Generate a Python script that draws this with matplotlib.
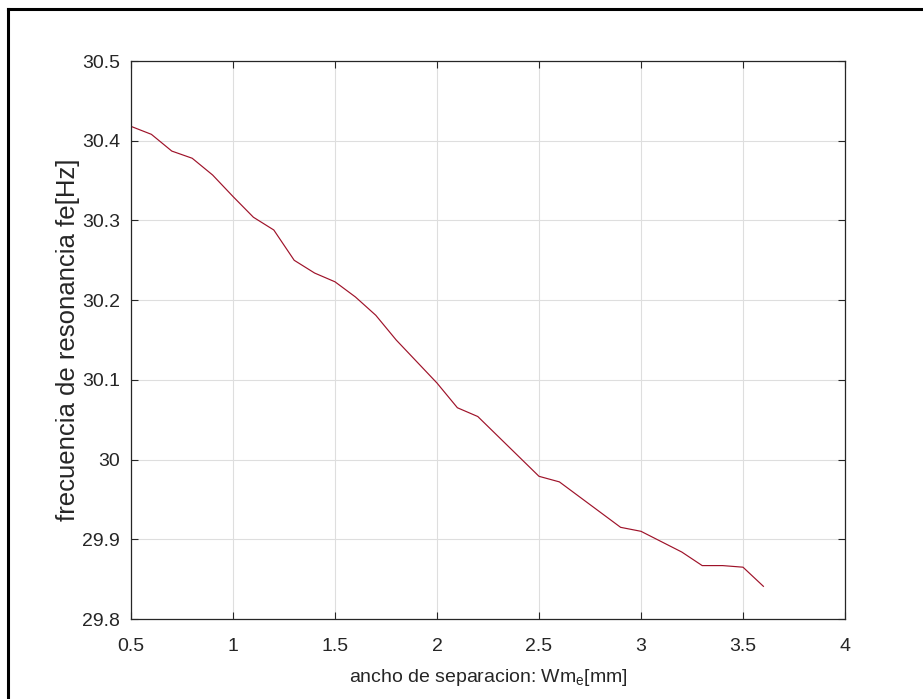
import matplotlib
matplotlib.use("Agg")
import matplotlib.pyplot as plt
from matplotlib.lines import Line2D
import numpy as np

# separation width Wm_e [mm] and resonance frequency fe [Hz]
ancho = [0.5, 0.6, 0.7, 0.8, 0.9, 1.0, 1.1, 1.2, 1.3, 1.4, 1.5, 1.6, 1.7, 1.8,
         1.9, 2.0, 2.1, 2.2, 2.3, 2.4, 2.5, 2.6, 2.7, 2.8, 2.9, 3.0, 3.1, 3.2,
         3.3, 3.4, 3.5, 3.6]
frecuencia = [30.418, 30.408, 30.387, 30.378, 30.357, 30.330, 30.304, 30.288,
              30.250, 30.234, 30.223, 30.204, 30.181, 30.150, 30.123, 30.096,
              30.065, 30.054, 30.029, 30.004, 29.979, 29.972, 29.953, 29.934,
              29.915, 29.910, 29.897, 29.884, 29.867, 29.867, 29.865, 29.841]

x_ticks = [0.5, 1, 1.5, 2, 2.5, 3, 3.5, 4]
x_tick_labels = ["0.5", "1", "1.5", "2", "2.5", "3", "3.5", "4"]
y_ticks = [29.8, 29.9, 30.0, 30.1, 30.2, 30.3, 30.4, 30.5]
y_tick_labels = ["29.8", "29.9", "30", "30.1", "30.2", "30.3", "30.4", "30.5"]

plt.rcParams['font.family'] = ['Liberation Sans', 'DejaVu Sans']

W, H = 923, 699
fig = plt.figure(figsize=(W / 100, H / 100), dpi=100)
ax = fig.add_axes([131 / W, 1 - 619 / H, (845 - 131) / W, (619 - 61) / H])

dark = (0.15, 0.15, 0.15)
ax.plot(ancho, frecuencia, color=(0.62, 0.07, 0.16), linewidth=0.85)

ax.set_xlim(0.5, 4)
ax.set_ylim(29.8, 30.5)
ax.set_xticks(x_ticks)
ax.set_xticklabels(x_tick_labels)
ax.set_yticks(y_ticks)
ax.set_yticklabels(y_tick_labels)
ax.grid(True, color=(0.87, 0.87, 0.87), linewidth=0.8)
ax.set_axisbelow(True)
ax.tick_params(direction='in', length=5, width=0.8, colors=dark,
               labelsize=14, top=True, right=True)
ax.tick_params(axis='x', pad=14)
ax.tick_params(axis='y', pad=8)
for s in ax.spines.values():
    s.set_color(dark)
    s.set_linewidth(0.9)

ax.set_xlabel("ancho de separacion: Wm$_\\mathregular{e}$[mm]", fontsize=14, color=dark, labelpad=8)
ax.set_ylabel("frecuencia de resonancia fe[Hz]", fontsize=18.5, color=dark, labelpad=1)

# screenshot frame (top and left edges)
fig.add_artist(Line2D([8 / W, 8 / W], [0, 1 - 9 / H], color='black', linewidth=2.2,
                      transform=fig.transFigure))
fig.add_artist(Line2D([8 / W, 1], [1 - 9 / H, 1 - 9 / H], color='black', linewidth=2.2,
                      transform=fig.transFigure))

fig.savefig("out.png", dpi=100)
